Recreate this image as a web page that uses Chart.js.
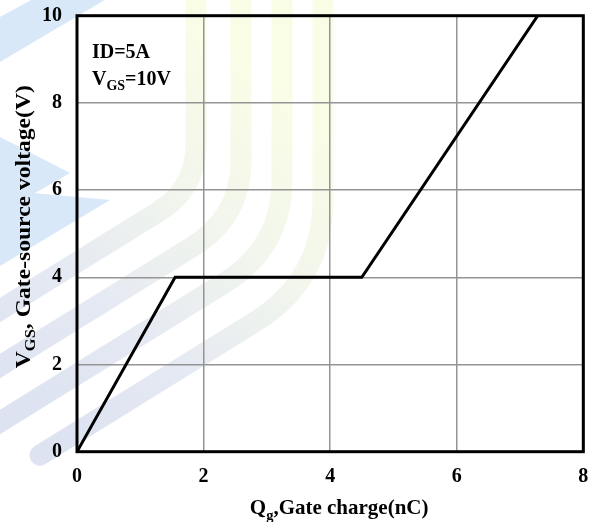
<!DOCTYPE html>
<html>
<head>
<meta charset="utf-8">
<script src="https://cdn.jsdelivr.net/npm/chart.js@4/dist/chart.umd.min.js"></script>
<style>
  html, body { margin: 0; padding: 0; background: #fff; }
  #wrap { width: 597px; height: 522px; }
</style>
</head>
<body>
<div id="wrap"><canvas id="c" width="597" height="522"></canvas></div>
<script>
// ---- Data ----
const gateCharge = [0, 1.55, 4.5, 7.28];      // Qg (nC)
const gateVoltage = [0, 4, 4, 10];            // VGS (V)
const xTickValues = [0, 2, 4, 6, 8];
const yTickValues = [0, 2, 4, 6, 8, 10];
const xTitleParts = [{t: 'Q'}, {t: 'g', sub: true}, {t: ',Gate charge(nC)'}];
const yTitleParts = [{t: 'V'}, {t: 'GS', sub: true}, {t: ', Gate-source voltage(V)'}];
const noteLine1 = [{t: 'ID=5A'}];
const noteLine2 = [{t: 'V'}, {t: 'GS', sub: true}, {t: '=10V'}];

const FONT = '"Liberation Serif", "Times New Roman", serif';

function richWidth(ctx, parts, size, subSize) {
  let w = 0;
  for (const p of parts) {
    ctx.font = 'bold ' + (p.sub ? subSize : size) + 'px ' + FONT;
    w += ctx.measureText(p.t).width;
  }
  return w;
}
function drawRich(ctx, parts, x, y, size, subSize, subDy) {
  let cx = x;
  ctx.textBaseline = 'alphabetic';
  ctx.textAlign = 'left';
  ctx.fillStyle = '#000';
  for (const p of parts) {
    ctx.font = 'bold ' + (p.sub ? subSize : size) + 'px ' + FONT;
    ctx.fillText(p.t, cx, p.sub ? y + subDy : y);
    cx += ctx.measureText(p.t).width;
  }
}

function drawWatermark(ctx, W, H) {
  ctx.save();
  ctx.fillStyle = '#ffffff';
  ctx.fillRect(0, 0, W, H);
  // light blue pointed bands (upper-left)
  ctx.fillStyle = '#d8e8f9';
  const polys = [
    [[0, 17], [35, -2], [108, -2], [0, 62]],
    [[0, 137], [70, 173], [0, 213]],
    [[0, 190], [110, 200], [0, 266]]
  ];
  for (const pl of polys) {
    ctx.beginPath();
    ctx.moveTo(pl[0][0], pl[0][1]);
    for (let i = 1; i < pl.length; i++) ctx.lineTo(pl[i][0], pl[i][1]);
    ctx.closePath();
    ctx.fill();
  }
  // curved bands: vertical (yellow) at top, bending down-left (blue)
  const grad = ctx.createLinearGradient(320, 120, 60, 430);
  grad.addColorStop(0, '#fafde6');
  grad.addColorStop(0.35, '#f2f6ec');
  grad.addColorStop(0.7, '#e5e9f3');
  grad.addColorStop(1, '#dde3f1');
  ctx.strokeStyle = grad;
  ctx.lineWidth = 21;
  const bands = [
    {cx: 196, yl: 310, xe: -30},
    {cx: 241, yl: 366, xe: -30},
    {cx: 282, yl: 422, xe: -30},
    {cx: 323, yl: 480, xe: 40}
  ];
  const s = 0.62, nx = -0.85, ny = 0.527;
  bands.forEach((b, i) => {
    const yInt = b.yl - s * b.cx;
    const r = 44 + 12 * i;
    ctx.beginPath();
    ctx.moveTo(b.cx, -5);
    ctx.lineTo(b.cx, yInt - r);
    ctx.quadraticCurveTo(b.cx, yInt, b.cx + nx * r, yInt + ny * r);
    ctx.lineTo(b.xe, b.yl - s * b.xe);
    ctx.lineCap = i === 3 ? 'round' : 'butt';
    ctx.stroke();
  });
  ctx.restore();
}

const decorPlugin = {
  id: 'decor',
  beforeDraw(chart) {
    drawWatermark(chart.ctx, chart.width, chart.height);
  },
  afterDraw(chart) {
    const ctx = chart.ctx;
    const a = chart.chartArea;
    ctx.save();
    // frame
    ctx.strokeStyle = '#000';
    ctx.lineWidth = 3;
    ctx.strokeRect(a.left, a.top, a.right - a.left, a.bottom - a.top);
    // annotation
    drawRich(ctx, noteLine1, a.left + 15, a.top + 42.5, 20, 14, 5);
    drawRich(ctx, noteLine2, a.left + 15, a.top + 69.5, 20, 14, 5);
    // x title
    const xw = richWidth(ctx, xTitleParts, 21, 14.5);
    drawRich(ctx, xTitleParts, (a.left + a.right) / 2 + 9 - xw / 2, a.bottom + 62, 21, 14.5, 6);
    // y title (rotated)
    const yw = richWidth(ctx, yTitleParts, 20, 14);
    const target = 283;
    ctx.translate(29.5, (a.top + a.bottom) / 2 - 7);
    ctx.rotate(-Math.PI / 2);
    ctx.scale(target / yw, 1);
    drawRich(ctx, yTitleParts, -yw / 2, 0, 20, 14, 5.5);
    ctx.restore();
  }
};

const tickFont = {family: FONT, size: 20, weight: 'bold'};

new Chart(document.getElementById('c'), {
  type: 'scatter',
  data: {
    datasets: [{
      data: gateCharge.map((x, i) => ({x: x, y: gateVoltage[i]})),
      showLine: true,
      borderColor: '#000',
      borderWidth: 3,
      pointRadius: 0,
      fill: false,
      tension: 0
    }]
  },
  options: {
    responsive: false,
    animation: false,
    devicePixelRatio: 1,
    layout: {padding: {top: 15.7, right: 13.7, left: 0, bottom: 0}},
    plugins: {legend: {display: false}, tooltip: {enabled: false}},
    scales: {
      x: {
        type: 'linear', min: 0, max: 8,
        afterBuildTicks: (sc) => { sc.ticks = xTickValues.map(v => ({value: v})); },
        afterFit: (sc) => { sc.height = 70.3; sc.paddingLeft = 0; sc.paddingRight = 0; },
        ticks: {font: tickFont, color: '#000', padding: 13, maxRotation: 0},
        grid: {color: '#949494', lineWidth: 1.5, drawTicks: false},
        border: {display: false}
      },
      y: {
        type: 'linear', min: 0, max: 10,
        afterBuildTicks: (sc) => { sc.ticks = yTickValues.map(v => ({value: v})); },
        afterFit: (sc) => { sc.width = 77; sc.paddingTop = 0; sc.paddingBottom = 0; },
        ticks: {font: tickFont, color: '#000', padding: 15},
        grid: {color: '#949494', lineWidth: 1.5, drawTicks: false},
        border: {display: false}
      }
    }
  },
  plugins: [decorPlugin]
});
</script>
</body>
</html>
